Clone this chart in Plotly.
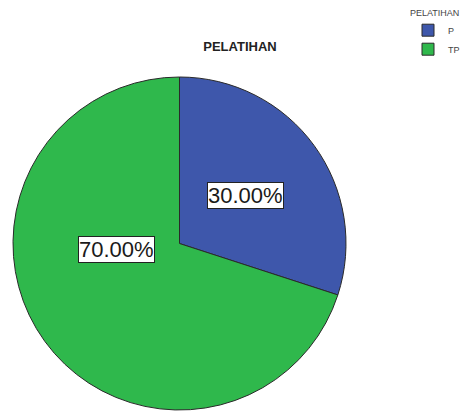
import math
import plotly.graph_objects as go

# Data
categories = ["P", "TP"]
values = [30, 70]
colors = ["#3E57AB", "#2FB84C"]
chart_title = "PELATIHAN"
legend_title = "PELATIHAN"

W, H = 465, 413

# Pie placement (paper fractions)
dom_x = [12 / W, 347 / W]
dom_y = [1 - 410 / H, 1 - 77 / H]

fig = go.Figure(
    go.Pie(
        labels=categories,
        values=values,
        marker=dict(colors=colors, line=dict(color="#2a2a2a", width=1)),
        sort=False,
        direction="clockwise",
        rotation=0,
        textinfo="none",
        hoverinfo="label+percent",
        domain=dict(x=dom_x, y=dom_y),
    )
)

# Percentage labels in boxed annotations, placed by polar offset from the pie centre
cx = (dom_x[0] + dom_x[1]) / 2 * W
cy = (1 - (dom_y[0] + dom_y[1]) / 2) * H
radius = min((dom_x[1] - dom_x[0]) * W, (dom_y[1] - dom_y[0]) * H) / 2
label_polar = [(54, 0.49), (265, 0.38)]  # (degrees clockwise from top, fraction of radius)

total = sum(values)
annotations = []
for v, (ang, rf) in zip(values, label_polar):
    px = cx + math.sin(math.radians(ang)) * rf * radius
    py = cy - math.cos(math.radians(ang)) * rf * radius
    annotations.append(
        dict(
            x=px / W,
            y=1 - py / H,
            xref="paper",
            yref="paper",
            xanchor="center",
            yanchor="middle",
            text=f"{v / total * 100:.2f}%",
            showarrow=False,
            font=dict(family="Liberation Sans, Arial", size=22, color="#1a1a1a"),
            bgcolor="white",
            bordercolor="#222222",
            borderwidth=1,
            borderpad=0,
        )
    )

fig.update_layout(
    width=W,
    height=H,
    margin=dict(l=0, r=0, t=0, b=0),
    paper_bgcolor="white",
    plot_bgcolor="white",
    title=dict(
        text=f"<b>{chart_title}</b>",
        x=240 / W,
        xanchor="center",
        y=1 - 46 / H,
        yanchor="middle",
        font=dict(family="Liberation Sans, Arial", size=13, color="#222222"),
    ),
    legend=dict(
        title=dict(text=legend_title, font=dict(size=9, color="#444444")),
        font=dict(family="Liberation Sans, Arial", size=9, color="#444444"),
        x=1,
        xanchor="right",
        y=1 - 4 / H,
        yanchor="top",
        bgcolor="rgba(0,0,0,0)",
        tracegroupgap=0,
        itemwidth=30,
    ),
    annotations=annotations,
)

fig.write_html("out.html")
